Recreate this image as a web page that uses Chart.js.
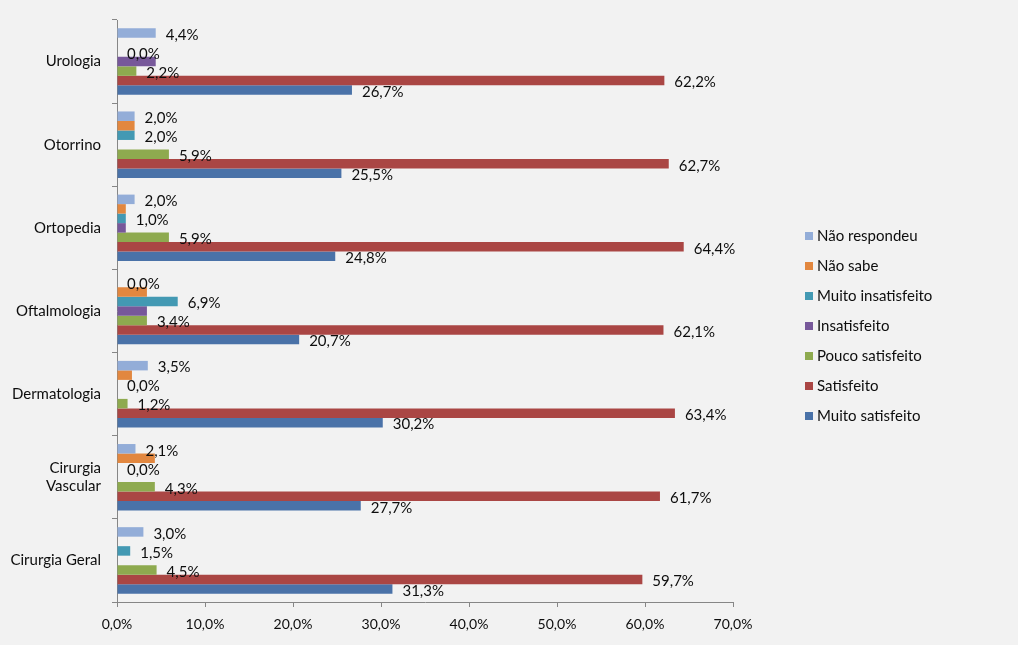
<!DOCTYPE html>
<html>
<head>
<meta charset="utf-8">
<script src="https://cdn.jsdelivr.net/npm/chart.js@4"></script>
<style>
  html, body { margin: 0; padding: 0; background: #f2f2f2; }
  canvas { display: block; }
</style>
</head>
<body>
<canvas id="c" width="1018" height="645"></canvas>
<script>
// ---- Data ----
const categories = ['Urologia', 'Otorrino', 'Ortopedia', 'Oftalmologia', 'Dermatologia', ['Cirurgia', 'Vascular'], 'Cirurgia Geral'];
const seriesNames = ['Não respondeu', 'Não sabe', 'Muito insatisfeito', 'Insatisfeito', 'Pouco satisfeito', 'Satisfeito', 'Muito satisfeito'];
const naoRespondeu      = [4.4, 2.0, 2.0, 0.0, 3.5, 2.1, 3.0];
const naoSabe           = [0.0, 2.0, 1.0, 3.4, 1.7, 4.3, 0.0];
const muitoInsatisfeito = [0.0, 2.0, 1.0, 6.9, 0.0, 0.0, 1.5];
const insatisfeito      = [4.4, 0.0, 1.0, 3.4, 0.0, 0.0, 0.0];
const poucoSatisfeito   = [2.2, 5.9, 5.9, 3.4, 1.2, 4.3, 4.5];
const satisfeito        = [62.2, 62.7, 64.4, 62.1, 63.4, 61.7, 59.7];
const muitoSatisfeito   = [26.7, 25.5, 24.8, 20.7, 30.2, 27.7, 31.3];
const xTicks = [0, 10, 20, 30, 40, 50, 60, 70];
// which series carry value labels in the original
const showValueLabel = [true, false, true, false, true, true, true];

const seriesValues = [naoRespondeu, naoSabe, muitoInsatisfeito, insatisfeito, poucoSatisfeito, satisfeito, muitoSatisfeito];
const seriesColors = ['#93add8', '#e2873f', '#4399b3', '#77589a', '#8eaa4f', '#aa4644', '#4a72a8'];

const fmt = v => v.toFixed(1).replace('.', ',') + '%';
const FONT = 'Lato, "Open Sans", sans-serif';

const valueLabels = {
  id: 'valueLabels',
  afterDatasetsDraw(chart) {
    const ctx = chart.ctx;
    ctx.save();
    ctx.font = '15px ' + FONT;
    ctx.fillStyle = '#0d0d0d';
    ctx.textAlign = 'left';
    ctx.textBaseline = 'middle';
    chart.data.datasets.forEach((ds, i) => {
      if (!showValueLabel[i]) return;
      const meta = chart.getDatasetMeta(i);
      meta.data.forEach((bar, j) => {
        ctx.fillText(fmt(ds.data[j]), bar.x + 10, bar.y + 2);
      });
    });
    ctx.restore();
  }
};

const sideLegend = {
  id: 'sideLegend',
  afterDraw(chart) {
    const ctx = chart.ctx;
    ctx.save();
    ctx.font = '15px ' + FONT;
    ctx.textAlign = 'left';
    ctx.textBaseline = 'middle';
    chart.data.datasets.forEach((ds, i) => {
      const y = 236 + 30 * i;
      ctx.fillStyle = ds.backgroundColor;
      ctx.fillRect(805, y - 4, 8, 8);
      ctx.fillStyle = '#0d0d0d';
      ctx.fillText(ds.label, 817, y);
    });
    ctx.restore();
  }
};

new Chart(document.getElementById('c'), {
  type: 'bar',
  data: {
    labels: categories,
    datasets: seriesNames.map((name, i) => ({
      label: name,
      data: seriesValues[i],
      backgroundColor: seriesColors[i],
      borderWidth: 0,
      categoryPercentage: 0.8,
      barPercentage: 1.0
    }))
  },
  options: {
    indexAxis: 'y',
    responsive: false,
    animation: false,
    layout: { padding: { top: 18, right: 285, bottom: 0, left: 0 } },
    plugins: {
      legend: { display: false },
      tooltip: { enabled: false }
    },
    scales: {
      x: {
        min: 0, max: 70,
        afterBuildTicks: s => { s.ticks = xTicks.map(v => ({ value: v })); },
        afterFit: s => { s.height = 43; },
        ticks: {
          callback: v => fmt(v),
          color: '#0d0d0d',
          font: { family: FONT, size: 14 },
          padding: 9,
          maxRotation: 0
        },
        grid: { drawOnChartArea: false, drawTicks: true, tickLength: 5, color: '#868686' },
        border: { color: '#868686' }
      },
      y: {
        afterFit: s => { s.width = 117; },
        ticks: {
          color: '#0d0d0d',
          font: { family: FONT, size: 15 },
          padding: 11
        },
        grid: { offset: true, drawOnChartArea: false, drawTicks: true, tickLength: 5, color: '#868686' },
        border: { color: '#868686' }
      }
    }
  },
  plugins: [valueLabels, sideLegend]
});
</script>
</body>
</html>
